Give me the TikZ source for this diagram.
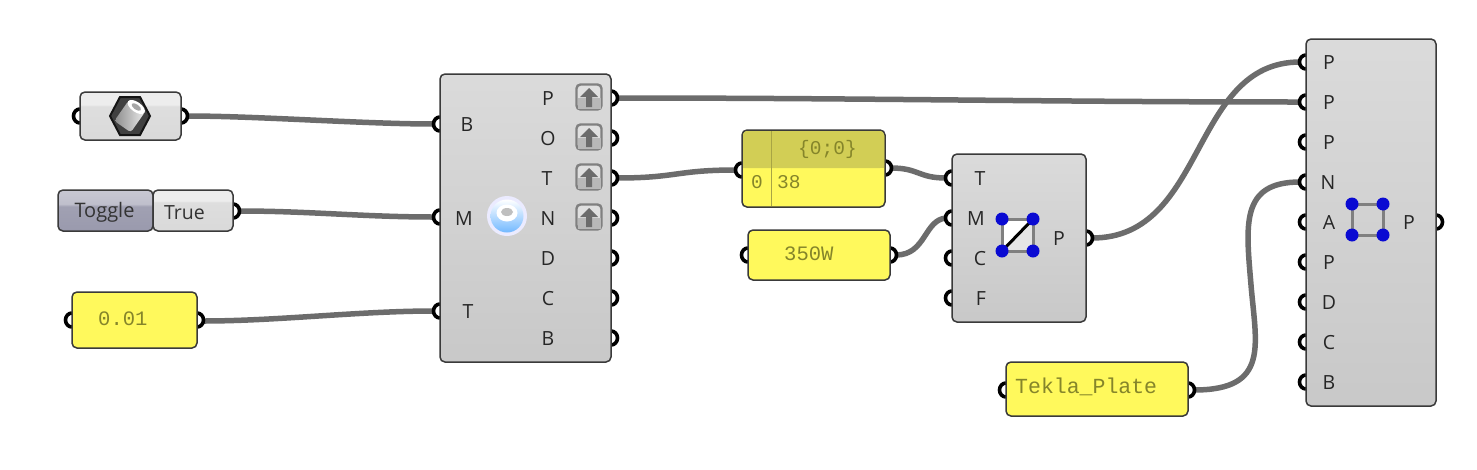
\documentclass[tikz,border=0pt]{standalone}
\usepackage{fontspec}
\setmainfont{Open Sans}
\newfontfamily\panelfont{Liberation Mono}
\usetikzlibrary{calc}
\definecolor{edgec}{HTML}{3A3A3A}
\definecolor{wirec}{HTML}{6C6C6C}
\definecolor{paneltxt}{HTML}{85852A}
\definecolor{panelyel}{HTML}{FFF95C}
\definecolor{panelhdr}{HTML}{D2CE55}
\definecolor{dotblue}{HTML}{0A0AD2}
\pgfdeclareverticalshading{compshade}{100bp}{
 rgb(0bp)=(0.75,0.75,0.75);
 rgb(91bp)=(0.88,0.88,0.88);
 rgb(93bp)=(0.88,0.88,0.88);
 rgb(94bp)=(0.93,0.93,0.93);
 rgb(100bp)=(0.96,0.96,0.96)}
\pgfdeclareverticalshading{capshade}{100bp}{
 rgb(0bp)=(0.84,0.84,0.84);
 rgb(60bp)=(0.87,0.87,0.87);
 rgb(62bp)=(0.93,0.93,0.93);
 rgb(100bp)=(0.92,0.92,0.92)}
\pgfdeclareverticalshading{toggleshade}{100bp}{
 rgb(0bp)=(0.58,0.58,0.66);
 rgb(55bp)=(0.63,0.63,0.70);
 rgb(58bp)=(0.75,0.75,0.80);
 rgb(100bp)=(0.83,0.83,0.86)}
\tikzset{
 x=1pt,y=1pt,
 comp/.style={draw=edgec,line width=1.5pt,rounded corners=5pt,shading=compshade,anchor=north west,inner sep=0pt,outer sep=0pt},
 capsule/.style={comp,shading=capshade},
 togglebox/.style={comp,shading=toggleshade},
 panel/.style={draw=edgec,line width=1.5pt,rounded corners=5pt,fill=panelyel,anchor=north west,inner sep=0pt,outer sep=0pt},
 wire/.style={draw=wirec,line width=5.5pt},
 portarc/.style={draw=black,line width=3.6pt,fill=white},
 lab/.style={font=\fontsize{19.5}{20}\selectfont,text=black!85,inner sep=0pt,yshift=-1pt},
 paneltext/.style={font=\panelfont\fontsize{20.5}{20}\selectfont,text=paneltxt,inner sep=0pt,anchor=base west},
 smallpanel/.style={paneltext,font=\panelfont\fontsize{19.5}{20}\selectfont},
 rectline/.style={draw=black!50,line width=3pt},
 dot/.style={fill=dotblue},
}
% box: name, x1, y1, x2, y2
\newcommand\gbox[6]{\node[#2,minimum width=#5pt-#3pt,minimum height=#6pt-#4pt] (#1) at (#3,-#4) {};}
\newcommand\inport[3]{\coordinate (#1) at (#2-6,-#3);
 \path[portarc] (#2,-#3+7) arc[start angle=90,end angle=270,x radius=6.5,y radius=7];}
\newcommand\outport[3]{\coordinate (#1) at (#2+6,-#3);
 \path[portarc] (#2,-#3-7) arc[start angle=-90,end angle=90,x radius=6.5,y radius=7];}
\newcommand\upbtn[2]{%
 \node[draw=black!50,line width=2.4pt,rounded corners=4pt,fill=black!12,minimum size=25pt,inner sep=0pt] (#1) at (589,-#2) {};
 \fill[black!28] (577.5,-#2-1) rectangle (600.5,-#2-11.5);
 \fill[black!58] (589,-#2+9) -- (598,-#2) -- (592,-#2) -- (592,-#2-10) -- (586,-#2-10) -- (586,-#2) -- (580,-#2) -- cycle;}
\begin{document}
\begin{tikzpicture}
\useasboundingbox (0,0) rectangle (1477,-469);
\fill[white] (0,0) rectangle (1477,-469);
% coordinates for connector ends
\coordinate (hexO) at (187,-116);
\coordinate (togO) at (239,-211);
\coordinate (numO) at (203,-321);
\coordinate (mB) at (434,-124);
\coordinate (mM) at (434,-217);
\coordinate (mT) at (434,-311);
\coordinate (mPo) at (617,-98);
\coordinate (mTo) at (617,-178);
\coordinate (pI) at (736,-170);
\coordinate (pO) at (891,-168);
\coordinate (wO) at (896,-255);
\coordinate (rT) at (946,-178);
\coordinate (rM) at (946,-218);
\coordinate (rO) at (1092,-238);
\coordinate (tO) at (1194,-390);
\coordinate (sP1) at (1300,-62);
\coordinate (sP2) at (1300,-102);
\coordinate (sN) at (1300,-182);
\coordinate (tmid) at (1251,-285);
% wires
\draw[wire] (hexO) .. controls +(70,0) and +(-70,0) .. (mB);
\draw[wire] (togO) .. controls +(70,0) and +(-70,0) .. (mM);
\draw[wire] (numO) .. controls +(75,0) and +(-75,0) .. (mT);
\draw[wire] (mPo) .. controls +(250,0) and +(-250,0) .. (sP2);
\draw[wire] (mTo) .. controls +(60,0) and +(-60,0) .. (pI);
\draw[wire] (pO) .. controls +(28,0) and +(-28,0) .. (rT);
\draw[wire] (wO) .. controls +(30,0) and +(-22,-2) .. (rM);
\draw[wire] (rO) .. controls +(115,0) and +(-110,0) .. (sP1);
\draw[wire] (tO) .. controls +(76,0) and +(5,-60) .. (tmid) .. controls +(-5,60) and +(-60,0) .. (sN);
% ports
\inport{hexI}{80}{116}\outport{hexOp}{181}{116}
\outport{togOp}{233}{211}
\inport{numI}{72}{320}\outport{numOp}{197}{320}
\inport{a1}{440}{124}\inport{a2}{440}{217}\inport{a3}{440}{311}
\outport{b1}{611}{98}\outport{b2}{611}{138}\outport{b3}{611}{178}\outport{b4}{611}{218}\outport{b5}{611}{258}\outport{b6}{611}{298}\outport{b7}{611}{338}
\inport{pIp}{742}{170}\outport{pOp}{885}{168}
\inport{wI}{748}{255}\outport{wOp}{890}{255}
\inport{c1}{952}{178}\inport{c2}{952}{218}\inport{c3}{952}{258}\inport{c4}{952}{298}\outport{cO}{1086}{238}
\inport{tI}{1006}{390}\outport{tOp}{1188}{390}
\inport{d1}{1306}{62}\inport{d2}{1306}{102}\inport{d3}{1306}{142}\inport{d4}{1306}{182}\inport{d5}{1306}{222}\inport{d6}{1306}{262}\inport{d7}{1306}{302}\inport{d8}{1306}{342}\inport{d9}{1306}{382}
\outport{dO}{1436}{222}
% boxes
\gbox{hexbox}{capsule}{80}{92}{181}{140}
\gbox{toggle}{togglebox}{58}{190}{153}{231}
\gbox{truebox}{capsule}{153}{190}{233}{231}
\gbox{num}{panel}{72}{292}{197}{348}
\gbox{main}{comp}{440}{74}{611}{362}
\gbox{data}{panel}{742}{130}{885}{207}
\gbox{watt}{panel}{748}{230}{890}{280}
\gbox{rectc}{comp}{952}{154}{1086}{322}
\gbox{tekla}{panel}{1006}{362}{1188}{416}
\gbox{surf}{comp}{1306}{39}{1436}{406}
% panel header
\fill[panelhdr,rounded corners=4pt] (743,-168) -- (743,-131) -- (884,-131) -- (884,-168) [sharp corners] -- cycle;
\fill[panelhdr] (743,-160) rectangle (884,-168);
\draw[panelhdr!80!black,line width=1pt] (771,-131) -- (771,-206);
% hex icon
\fill[black!75] (110,-116) -- (120,-97) -- (140,-97) -- (150,-116) -- (140,-135) -- (120,-135) -- cycle;
\draw[black!92,line width=2pt] (110,-116) -- (120,-97) -- (140,-97) -- (150,-116) -- (140,-135) -- (120,-135) -- cycle;
\begin{scope}[rotate around={-35:(130,-116)}]
\shade[left color=black!45,right color=black!8,rounded corners=3pt] (120,-129) rectangle (140,-104);
\fill[white] (130,-105) ellipse [x radius=10,y radius=5];
\fill[black!35] (130,-105) ellipse [x radius=5.5,y radius=2.6];
\end{scope}
% text
\node[lab,font=\fontsize{20}{20}\selectfont,text=black!80] (tt) at (104.5,-211) {Toggle};
\node[lab,font=\fontsize{19.5}{20}\selectfont,text=black!80] (tv) at (184.5,-212) {True};
\node[paneltext] (n1) at (98,-325.5) {0.01};
\node[lab] (l1) at (467,-124) {B};
\node[lab] (l2) at (464,-218) {M};
\node[lab] (l3) at (468,-311) {T};
\node[lab] (o1) at (548,-98) {P};
\node[lab] (o2) at (548,-138) {O};
\node[lab] (o3) at (547,-178) {T};
\node[lab] (o4) at (548,-218) {N};
\node[lab] (o5) at (548,-258) {D};
\node[lab] (o6) at (548,-298) {C};
\node[lab] (o7) at (548,-338) {B};
\upbtn{u1}{97}\upbtn{u2}{137}\upbtn{u3}{177}\upbtn{u4}{217}
% sphere icon
\fill[white!92!blue] (507,-216) circle [radius=20];
\shade[top color=white,bottom color=blue!50!cyan!55!white] (507,-216) circle [radius=16.5];
\fill[white] (507,-213) ellipse [x radius=10.5,y radius=8.5];
\fill[black!25] (507,-212) ellipse [x radius=6,y radius=4];
\node[smallpanel] (p1) at (798,-154) {\{0;0\}};
\node[smallpanel] (p2) at (751,-188) {0};
\node[smallpanel] (p3) at (777,-188) {38};
\node[paneltext] (w1) at (784,-260) {350W};
\node[lab] (r1) at (980,-178) {T};
\node[lab] (r2) at (976,-218) {M};
\node[lab] (r3) at (980,-258) {C};
\node[lab] (r4) at (981,-298) {F};
\node[lab] (r5) at (1059,-238) {P};
% rectangle icon
\fill[black!10] (1002,-219) rectangle (1033,-251);
\fill[white] (1002,-219) -- (1033,-219) -- (1002,-251) -- cycle;
\draw[rectline] (1002,-219) rectangle (1033,-251);
\draw[black,line width=3pt] (1002,-251) -- (1033,-219);
\foreach \a/\b in {1002/219,1033/219,1002/251,1033/251} {\fill[dot] (\a,-\b) circle [radius=6.5];}
\node[paneltext,font=\panelfont\fontsize{21.5}{20}\selectfont] (t1) at (1015,-393) {Tekla\_Plate};
\node[lab] (s1) at (1329,-62) {P};
\node[lab] (s2) at (1329,-102) {P};
\node[lab] (s3) at (1329,-142) {P};
\node[lab] (s4) at (1328,-182) {N};
\node[lab] (s5) at (1329,-222) {A};
\node[lab] (s6) at (1329,-262) {P};
\node[lab] (s7) at (1329,-302) {D};
\node[lab] (s8) at (1329,-342) {C};
\node[lab] (s9) at (1329,-382) {B};
\node[lab] (s10) at (1409,-222) {P};
% surface icon
\draw[rectline] (1352,-204) rectangle (1383,-235);
\foreach \a/\b in {1352/204,1383/204,1352/235,1383/235} {\fill[dot] (\a,-\b) circle [radius=6.5];}
\end{tikzpicture}
\end{document}
